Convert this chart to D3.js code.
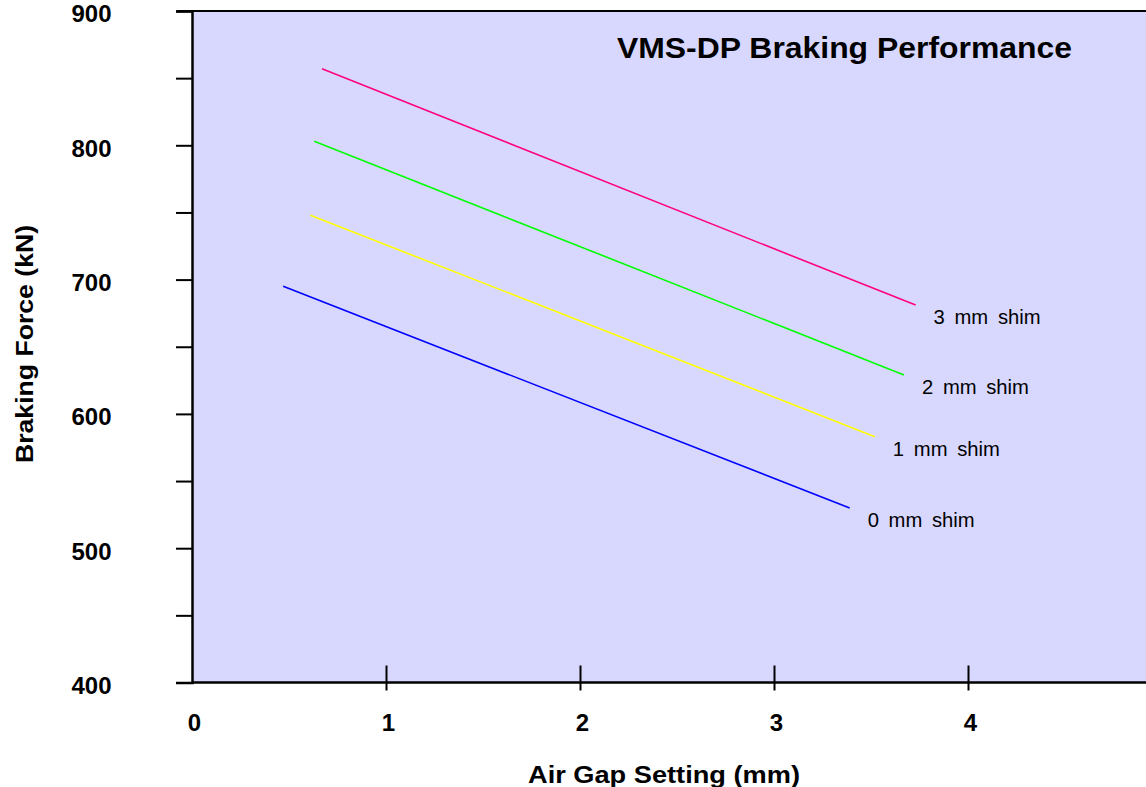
<!DOCTYPE html>
<html>
<head>
<meta charset="utf-8">
<script src="https://cdn.jsdelivr.net/npm/d3@7"></script>
<style>
  body { margin: 0; background: #fff; }
  svg text { font-family: "Liberation Sans", Arial, sans-serif; fill: #000; }
</style>
</head>
<body>
<svg id="chart" width="1146" height="787"></svg>
<script>
(function() {
    // series: each shim line is drawn from its two end points (air gap mm, force kN)
    var shims = ["0 mm shim", "1 mm shim", "2 mm shim", "3 mm shim"];
    var gapStart = [0.47, 0.61, 0.63, 0.67];
    var gapEnd = [3.39, 3.52, 3.67, 3.73];
    var forceStart = [695, 748, 803, 857];
    var forceEnd = [530, 583, 629, 681];
    var colors = ["#0000ff", "#ffff00", "#00ff00", "#ff0080"];

    var xTicks = [0, 1, 2, 3, 4];
    var yTicks = [400, 450, 500, 550, 600, 650, 700, 750, 800, 850, 900];

    var width = 1146, height = 787;
    var left = 192, top = 11, bottom = 682.5;

    var svg = d3.select("#chart");

    var x = d3.scaleLinear().domain([0, 5]).range([left, left + 5 * 194]);
    var y = d3.scaleLinear().domain([400, 900]).range([bottom, top]);

    // plot background
    svg.append("rect")
        .attr("x", left).attr("y", top)
        .attr("width", width - left).attr("height", bottom - top)
        .attr("fill", "#d8d8ff");

    // top border
    svg.append("line")
        .attr("x1", left - 14).attr("x2", width)
        .attr("y1", top).attr("y2", top)
        .attr("stroke", "#000").attr("stroke-width", 2);

    // y axis
    var yAxis = svg.append("g")
        .attr("transform", "translate(" + left + ",0)")
        .call(d3.axisLeft(y).tickValues(yTicks).tickSize(16).tickPadding(64.5)
            .tickFormat(function(d) { return d % 100 === 0 ? d : ""; }));
    yAxis.select(".domain").attr("stroke", "#000").attr("stroke-width", 2.5);
    yAxis.selectAll(".tick line").attr("stroke", "#000").attr("stroke-width", 2);
    yAxis.selectAll(".tick text")
        .attr("font-size", 24).attr("font-weight", "bold")
        .attr("font-family", "Liberation Sans, Arial, sans-serif")
        .attr("textLength", 40).attr("lengthAdjust", "spacingAndGlyphs")
        .attr("dy", "0.45em");

    // x axis
    var xAxis = svg.append("g")
        .attr("transform", "translate(0," + bottom + ")")
        .call(d3.axisBottom(x).tickValues(xTicks).tickSize(8).tickFormat(d3.format("d")));
    xAxis.select(".domain").attr("d", "M" + left + ",0H" + width)
        .attr("stroke", "#000").attr("stroke-width", 2.5);
    xAxis.selectAll(".tick line")
        .attr("y1", -17).attr("y2", 8)
        .attr("stroke", "#000").attr("stroke-width", 2)
        .attr("display", function(d) { return d === 0 ? "none" : null; });
    xAxis.selectAll(".tick text")
        .attr("y", 48.5).attr("dy", 0).attr("dx", 2)
        .attr("font-size", 24).attr("font-weight", "bold")
        .attr("font-family", "Liberation Sans, Arial, sans-serif");

    // lines
    var lines = svg.append("g");
    shims.forEach(function(name, i) {
        lines.append("line")
            .attr("x1", x(gapStart[i])).attr("y1", y(forceStart[i]))
            .attr("x2", x(gapEnd[i])).attr("y2", y(forceEnd[i]))
            .attr("stroke", colors[i]).attr("stroke-width", 1.6);
        lines.append("text")
            .attr("x", x(gapEnd[i]) + 18).attr("y", y(forceEnd[i]) + 19)
            .attr("font-size", 20).attr("word-spacing", 4)
            .attr("textLength", 107).attr("lengthAdjust", "spacingAndGlyphs")
            .text(name);
    });

    // title
    svg.append("text")
        .attr("x", 617).attr("y", 58)
        .attr("font-size", 29).attr("font-weight", "bold")
        .attr("textLength", 455).attr("lengthAdjust", "spacingAndGlyphs")
        .text("VMS-DP Braking Performance");

    // axis titles
    svg.append("text")
        .attr("x", 664).attr("y", 783)
        .attr("text-anchor", "middle")
        .attr("font-size", 24).attr("font-weight", "bold")
        .attr("textLength", 272).attr("lengthAdjust", "spacingAndGlyphs")
        .text("Air Gap Setting (mm)");

    svg.append("text")
        .attr("transform", "translate(33,344) rotate(-90)")
        .attr("text-anchor", "middle")
        .attr("font-size", 24).attr("font-weight", "bold")
        .attr("textLength", 238).attr("lengthAdjust", "spacingAndGlyphs")
        .text("Braking Force (kN)");
})();
</script>
</body>
</html>
